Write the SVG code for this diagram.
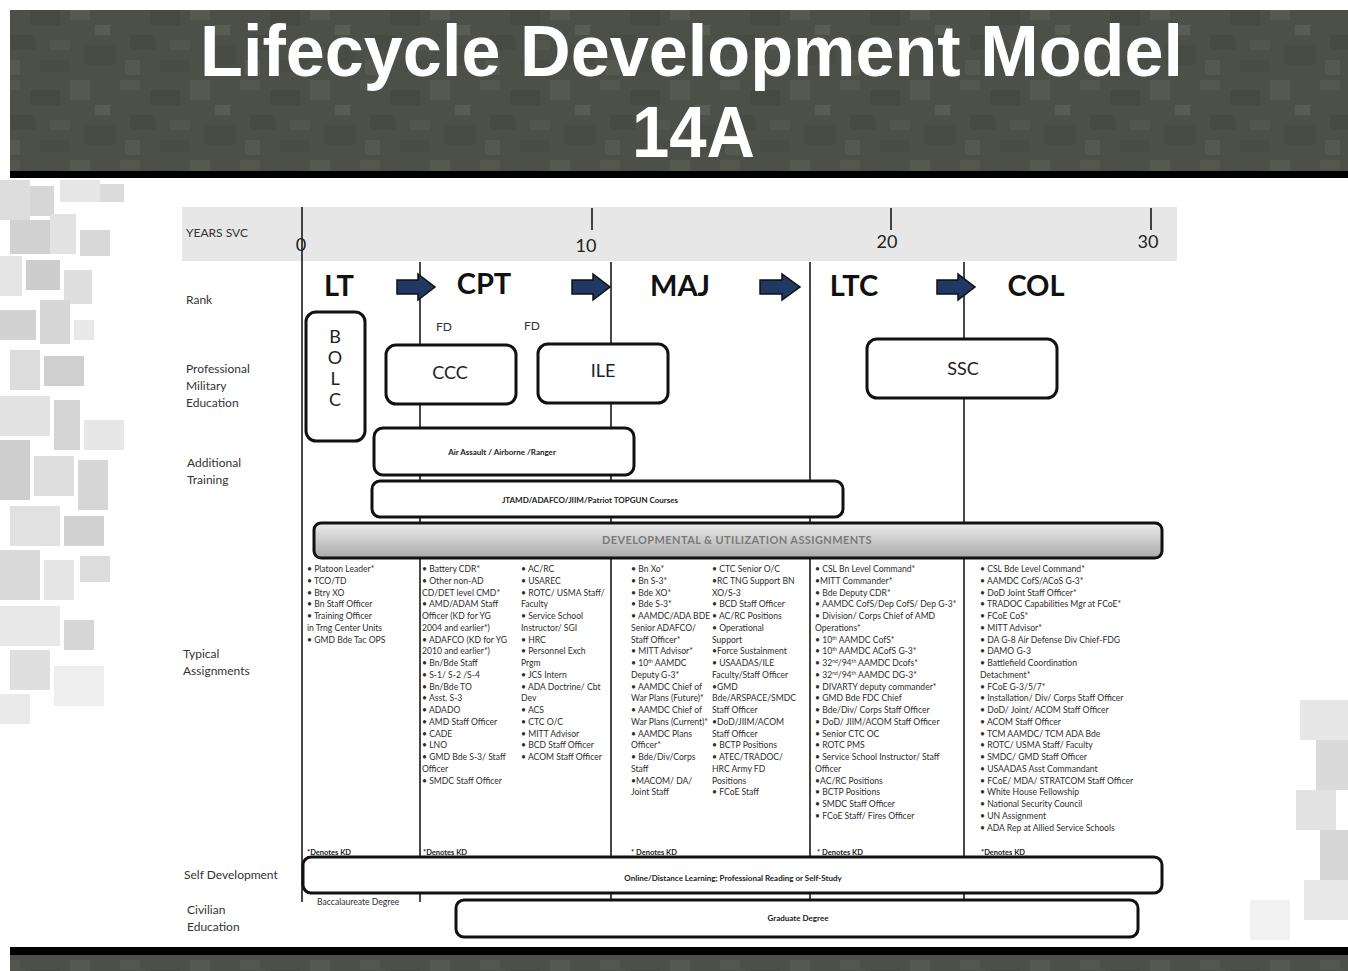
<svg xmlns="http://www.w3.org/2000/svg" width="1348" height="971" viewBox="0 0 1348 971">
  <defs>
    <style>
      .lbl { font-family: Lato, "Liberation Sans", sans-serif; font-size: 12px; fill: #333; }
      .rank { font-family: Lato, "Liberation Sans", sans-serif; font-size: 29px; font-weight: bold; fill: #111; }
      .box { fill: #fff; stroke: #111; stroke-width: 3; }
      .boxtxt { font-family: Lato, "Liberation Sans", sans-serif; font-size: 18px; fill: #222; text-anchor: middle; }
      .small { font-family: Lato, "Liberation Sans", sans-serif; font-size: 8px; font-weight: bold; fill: #222; text-anchor: middle; }
      .asg { font-family: Lato, "Liberation Sans", sans-serif; font-size: 8.6px; fill: #2e2e2e; }
      .kd { font-family: Lato, "Liberation Sans", sans-serif; font-size: 7.5px; font-weight: bold; fill: #222; text-decoration: underline; }
      .col { stroke: #1a1a1a; stroke-width: 1.6; fill: none; }
      .arrow { fill: #1f3864; stroke: #111; stroke-width: 1.5; }
      .yr { font-family: Lato, "Liberation Sans", sans-serif; font-size: 18px; fill: #222; text-anchor: middle; }
      .title { font-family: "Liberation Sans", Arial, sans-serif; font-weight: bold; fill: #fff; }
      .sup { font-size: 5px; }
    </style>
    <pattern id="camoDark" width="120" height="80" patternUnits="userSpaceOnUse">
      <rect width="120" height="80" fill="#4d5048"/>
      <rect x="0" y="0" width="20" height="10" fill="#54574e"/>
      <rect x="30" y="10" width="30" height="15" fill="#474a42"/>
      <rect x="70" y="0" width="20" height="20" fill="#575a51"/>
      <rect x="10" y="35" width="25" height="15" fill="#484b43"/>
      <rect x="50" y="40" width="20" height="10" fill="#53564d"/>
      <rect x="85" y="45" width="30" height="20" fill="#494c44"/>
      <rect x="5" y="60" width="15" height="15" fill="#565950"/>
      <rect x="40" y="60" width="30" height="12" fill="#4a4d45"/>
      <rect x="95" y="25" width="15" height="10" fill="#5a5d54"/>
    </pattern>
    <linearGradient id="devGrad" x1="0" y1="0" x2="0" y2="1">
      <stop offset="0" stop-color="#ececec"/>
      <stop offset="1" stop-color="#a9a9a9"/>
    </linearGradient>
  </defs>

  <!-- page -->
  <rect width="1348" height="971" fill="#fff"/>

  <!-- light camouflage at the left and right margins -->
  <g id="margin-camo" opacity="0.85">
    <rect x="0" y="180" width="30" height="40" fill="#d8d8d8"/>
    <rect x="30" y="186" width="24" height="30" fill="#cfcfcf"/>
    <rect x="60" y="180" width="40" height="22" fill="#e2e2e2"/>
    <rect x="100" y="184" width="24" height="18" fill="#d5d5d5"/>
    <rect x="10" y="220" width="40" height="34" fill="#c9c9c9"/>
    <rect x="50" y="214" width="26" height="40" fill="#dedede"/>
    <rect x="80" y="230" width="30" height="26" fill="#d2d2d2"/>
    <rect x="0" y="256" width="22" height="40" fill="#e0e0e0"/>
    <rect x="26" y="260" width="34" height="30" fill="#c4c4c4"/>
    <rect x="64" y="270" width="28" height="34" fill="#dadada"/>
    <rect x="40" y="300" width="30" height="44" fill="#d0d0d0"/>
    <rect x="0" y="310" width="36" height="30" fill="#cbcbcb"/>
    <rect x="74" y="320" width="20" height="20" fill="#e4e4e4"/>
    <rect x="10" y="350" width="30" height="40" fill="#d6d6d6"/>
    <rect x="44" y="356" width="40" height="30" fill="#c7c7c7"/>
    <rect x="0" y="396" width="50" height="40" fill="#dddddd"/>
    <rect x="54" y="400" width="26" height="50" fill="#cdcdcd"/>
    <rect x="84" y="420" width="40" height="30" fill="#e3e3e3"/>
    <rect x="0" y="440" width="30" height="60" fill="#c6c6c6"/>
    <rect x="34" y="456" width="40" height="40" fill="#d9d9d9"/>
    <rect x="78" y="460" width="30" height="50" fill="#cfcfcf"/>
    <rect x="10" y="506" width="50" height="40" fill="#dcdcdc"/>
    <rect x="64" y="516" width="40" height="30" fill="#c9c9c9"/>
    <rect x="0" y="550" width="40" height="50" fill="#d3d3d3"/>
    <rect x="44" y="560" width="30" height="40" fill="#e1e1e1"/>
    <rect x="80" y="556" width="30" height="26" fill="#d7d7d7"/>
    <rect x="0" y="606" width="60" height="40" fill="#e5e5e5"/>
    <rect x="64" y="620" width="30" height="30" fill="#d0d0d0"/>
    <rect x="10" y="650" width="40" height="40" fill="#dadada"/>
    <rect x="54" y="666" width="50" height="40" fill="#ececec"/>
    <rect x="0" y="694" width="30" height="30" fill="#e6e6e6"/>
    <rect x="1300" y="700" width="48" height="40" fill="#e3e3e3"/>
    <rect x="1316" y="740" width="32" height="50" fill="#d4d4d4"/>
    <rect x="1296" y="790" width="40" height="40" fill="#dedede"/>
    <rect x="1320" y="830" width="28" height="50" fill="#cfcfcf"/>
    <rect x="1304" y="880" width="44" height="40" fill="#e4e4e4"/>
    <rect x="1250" y="900" width="40" height="40" fill="#efefef"/>
  </g>

  <!-- title band -->
  <g id="header">
    <rect x="10" y="10" width="1338" height="161" fill="url(#camoDark)"/>
    <rect x="10" y="171" width="1338" height="7" fill="#000"/>
    <text class="title" x="200" y="76" font-size="72" textLength="983" lengthAdjust="spacingAndGlyphs">Lifecycle Development Model</text>
    <text class="title" x="632" y="157" font-size="72" textLength="123" lengthAdjust="spacingAndGlyphs">14A</text>
  </g>

  <!-- footer band -->
  <g id="footer">
    <rect x="10" y="947" width="1338" height="8" fill="#000"/>
    <rect x="10" y="955" width="1338" height="16" fill="url(#camoDark)"/>
  </g>

  <!-- years of service scale -->
  <g id="years">
    <rect x="182" y="207" width="995" height="54" fill="#e7e7e7"/>
    <text class="lbl" x="186" y="237" font-size="11">YEARS SVC</text>
    <line class="col" x1="592" y1="208" x2="592" y2="230"/>
    <line class="col" x1="891" y1="208" x2="891" y2="230"/>
    <line class="col" x1="1151" y1="208" x2="1151" y2="230"/>
    <text class="yr" x="301" y="251">0</text>
    <text class="yr" x="586" y="252">10</text>
    <text class="yr" x="887" y="248">20</text>
    <text class="yr" x="1148" y="248">30</text>
  </g>

  <!-- row labels -->
  <g id="row-labels">
    <text class="lbl" x="186" y="304">Rank</text>
    <text class="lbl" x="186" y="373">Professional<tspan x="186" dy="17">Military</tspan><tspan x="186" dy="17">Education</tspan></text>
    <text class="lbl" x="187" y="467">Additional<tspan x="187" dy="17">Training</tspan></text>
    <text class="lbl" x="183" y="658">Typical<tspan x="183" dy="17">Assignments</tspan></text>
    <text class="lbl" x="184" y="879">Self Development</text>
    <text class="lbl" x="187" y="914">Civilian<tspan x="187" dy="17">Education</tspan></text>
  </g>

  <!-- column boundaries and rank progression -->
  <g id="connectors">
    <line class="col" x1="302" y1="207" x2="302" y2="902"/>
    <line class="col" x1="420" y1="262" x2="420" y2="902"/>
    <line class="col" x1="611" y1="262" x2="611" y2="902"/>
    <line class="col" x1="810" y1="262" x2="810" y2="902"/>
    <line class="col" x1="964" y1="262" x2="964" y2="902"/>
    <path class="arrow" d="M397 280 H418 V274 L435 287 L418 300 V294 H397 Z"/>
    <path class="arrow" d="M572 280 H593 V274 L610 287 L593 300 V294 H572 Z"/>
    <path class="arrow" d="M760 280 H782 V274 L800 287 L782 300 V294 H760 Z"/>
    <path class="arrow" d="M937 280 H958 V274 L975 287 L958 300 V294 H937 Z"/>
  </g>

  <!-- ranks -->
  <g id="ranks">
    <text class="rank" x="339" y="296" text-anchor="middle">LT</text>
    <text class="rank" x="484" y="294" text-anchor="middle">CPT</text>
    <text class="rank" x="680" y="296" text-anchor="middle">MAJ</text>
    <text class="rank" x="854" y="296" text-anchor="middle">LTC</text>
    <text class="rank" x="1036" y="296" text-anchor="middle">COL</text>
    <text class="lbl" x="436" y="331" font-size="10">FD</text>
    <text class="lbl" x="524" y="330" font-size="10">FD</text>
  </g>

  <!-- professional military education -->
  <g id="bolc">
    <rect class="box" x="306" y="312" width="59" height="129" rx="10"/>
    <text class="boxtxt" x="335" y="343" font-size="15">B<tspan x="335" dy="21">O</tspan><tspan x="335" dy="21">L</tspan><tspan x="335" dy="21">C</tspan></text>
  </g>
  <g id="ccc">
    <rect class="box" x="386" y="345" width="130" height="59" rx="10"/>
    <text class="boxtxt" x="450" y="379">CCC</text>
  </g>
  <g id="ile">
    <rect class="box" x="538" y="344" width="130" height="59" rx="10"/>
    <text class="boxtxt" x="603" y="377">ILE</text>
  </g>
  <g id="ssc">
    <rect class="box" x="867" y="339" width="190" height="59" rx="10"/>
    <text class="boxtxt" x="963" y="375">SSC</text>
  </g>

  <!-- additional training -->
  <g id="air-assault">
    <rect class="box" x="374" y="428" width="260" height="47" rx="9"/>
    <text class="small" x="502" y="455">Air Assault / Airborne /Ranger</text>
  </g>
  <g id="jtamd">
    <rect class="box" x="372" y="481" width="471" height="36" rx="8"/>
    <text class="small" x="590" y="503">JTAMD/ADAFCO/JIIM/Patriot TOPGUN Courses</text>
  </g>

  <!-- assignments header bar -->
  <g id="dev-util">
    <rect x="314" y="523" width="848" height="35" rx="7" fill="url(#devGrad)" stroke="#111" stroke-width="3"/>
    <text x="737" y="544" font-family="Lato, 'Liberation Sans', sans-serif" font-size="11" font-weight="bold" fill="#7a7a7a" text-anchor="middle" letter-spacing="0.4">DEVELOPMENTAL &amp; UTILIZATION ASSIGNMENTS</text>
  </g>

  <!-- typical assignments, one group per rank -->
  <g id="asg-lt">
    <text class="asg" x="307" y="572">• Platoon Leader*<tspan x="307" dy="11.75">• TCO/TD</tspan><tspan x="307" dy="11.75">• Btry XO</tspan><tspan x="307" dy="11.75">• Bn Staff Officer</tspan><tspan x="307" dy="11.75">• Training Officer</tspan><tspan x="307" dy="11.75">in Trng Center Units</tspan><tspan x="307" dy="11.75">• GMD Bde Tac OPS</tspan></text>
    <text class="kd" x="307" y="855">*Denotes KD</text>
  </g>
  <g id="asg-cpt">
    <text class="asg" x="422" y="572">• Battery CDR*<tspan x="422" dy="11.75">• Other non-AD</tspan><tspan x="422" dy="11.75">CD/DET level CMD*</tspan><tspan x="422" dy="11.75">• AMD/ADAM Staff</tspan><tspan x="422" dy="11.75">Officer (KD for YG</tspan><tspan x="422" dy="11.75">2004 and earlier*)</tspan><tspan x="422" dy="11.75">• ADAFCO (KD for YG</tspan><tspan x="422" dy="11.75">2010 and earlier*)</tspan><tspan x="422" dy="11.75">• Bn/Bde Staff</tspan><tspan x="422" dy="11.75">• S-1/ S-2 /S-4</tspan><tspan x="422" dy="11.75">• Bn/Bde TO</tspan><tspan x="422" dy="11.75">• Asst. S-3</tspan><tspan x="422" dy="11.75">• ADADO</tspan><tspan x="422" dy="11.75">• AMD Staff Officer</tspan><tspan x="422" dy="11.75">• CADE</tspan><tspan x="422" dy="11.75">• LNO</tspan><tspan x="422" dy="11.75">• GMD Bde S-3/ Staff</tspan><tspan x="422" dy="11.75">Officer</tspan><tspan x="422" dy="11.75">• SMDC Staff Officer</tspan></text>
    <text class="asg" x="521" y="572">• AC/RC<tspan x="521" dy="11.75">• USAREC</tspan><tspan x="521" dy="11.75">• ROTC/ USMA Staff/</tspan><tspan x="521" dy="11.75">Faculty</tspan><tspan x="521" dy="11.75">• Service School</tspan><tspan x="521" dy="11.75">Instructor/ SGI</tspan><tspan x="521" dy="11.75">• HRC</tspan><tspan x="521" dy="11.75">• Personnel Exch</tspan><tspan x="521" dy="11.75">Prgm</tspan><tspan x="521" dy="11.75">• JCS Intern</tspan><tspan x="521" dy="11.75">• ADA Doctrine/ Cbt</tspan><tspan x="521" dy="11.75">Dev</tspan><tspan x="521" dy="11.75">• ACS</tspan><tspan x="521" dy="11.75">• CTC O/C</tspan><tspan x="521" dy="11.75">• MITT Advisor</tspan><tspan x="521" dy="11.75">• BCD Staff Officer</tspan><tspan x="521" dy="11.75">• ACOM Staff Officer</tspan></text>
    <text class="kd" x="423" y="855">*Denotes KD</text>
  </g>
  <g id="asg-maj">
    <text class="asg" x="631" y="572">• Bn Xo*<tspan x="631" dy="11.75">• Bn S-3*</tspan><tspan x="631" dy="11.75">• Bde XO*</tspan><tspan x="631" dy="11.75">• Bde S-3*</tspan><tspan x="631" dy="11.75">• AAMDC/ADA BDE</tspan><tspan x="631" dy="11.75">Senior ADAFCO/</tspan><tspan x="631" dy="11.75">Staff Officer*</tspan><tspan x="631" dy="11.75">• MITT Advisor*</tspan><tspan x="631" dy="11.75">• 10<tspan class="sup" dy="-3">th</tspan><tspan dy="3"> AAMDC</tspan></tspan><tspan x="631" dy="11.75">Deputy G-3*</tspan><tspan x="631" dy="11.75">• AAMDC Chief of</tspan><tspan x="631" dy="11.75">War Plans (Future)*</tspan><tspan x="631" dy="11.75">• AAMDC Chief of</tspan><tspan x="631" dy="11.75">War Plans (Current)*</tspan><tspan x="631" dy="11.75">• AAMDC Plans</tspan><tspan x="631" dy="11.75">Officer*</tspan><tspan x="631" dy="11.75">• Bde/Div/Corps</tspan><tspan x="631" dy="11.75">Staff</tspan><tspan x="631" dy="11.75">•MACOM/ DA/</tspan><tspan x="631" dy="11.75">Joint Staff</tspan></text>
    <text class="asg" x="712" y="572">• CTC Senior O/C<tspan x="712" dy="11.75">•RC TNG Support BN</tspan><tspan x="712" dy="11.75">XO/S-3</tspan><tspan x="712" dy="11.75">• BCD Staff Officer</tspan><tspan x="712" dy="11.75">• AC/RC Positions</tspan><tspan x="712" dy="11.75">• Operational</tspan><tspan x="712" dy="11.75">Support</tspan><tspan x="712" dy="11.75">•Force Sustainment</tspan><tspan x="712" dy="11.75">• USAADAS/ILE</tspan><tspan x="712" dy="11.75">Faculty/Staff Officer</tspan><tspan x="712" dy="11.75">•GMD</tspan><tspan x="712" dy="11.75">Bde/ARSPACE/SMDC</tspan><tspan x="712" dy="11.75">Staff Officer</tspan><tspan x="712" dy="11.75">•DoD/JIIM/ACOM</tspan><tspan x="712" dy="11.75">Staff Officer</tspan><tspan x="712" dy="11.75">• BCTP Positions</tspan><tspan x="712" dy="11.75">• ATEC/TRADOC/</tspan><tspan x="712" dy="11.75">HRC Army FD</tspan><tspan x="712" dy="11.75">Positions</tspan><tspan x="712" dy="11.75">• FCoE Staff</tspan></text>
    <text class="kd" x="631" y="855">* Denotes KD</text>
  </g>
  <g id="asg-ltc">
    <text class="asg" x="815" y="572">• CSL Bn Level Command*<tspan x="815" dy="11.75">•MITT Commander*</tspan><tspan x="815" dy="11.75">• Bde Deputy CDR*</tspan><tspan x="815" dy="11.75">• AAMDC CofS/Dep CofS/ Dep G-3*</tspan><tspan x="815" dy="11.75">• Division/ Corps Chief of AMD</tspan><tspan x="815" dy="11.75">Operations*</tspan><tspan x="815" dy="11.75">• 10<tspan class="sup" dy="-3">th</tspan><tspan dy="3"> AAMDC CofS*</tspan></tspan><tspan x="815" dy="11.75">• 10<tspan class="sup" dy="-3">th</tspan><tspan dy="3"> AAMDC ACofS G-3*</tspan></tspan><tspan x="815" dy="11.75">• 32<tspan class="sup" dy="-3">nd</tspan><tspan dy="3">/94</tspan><tspan class="sup" dy="-3">th</tspan><tspan dy="3"> AAMDC Dcofs*</tspan></tspan><tspan x="815" dy="11.75">• 32<tspan class="sup" dy="-3">nd</tspan><tspan dy="3">/94</tspan><tspan class="sup" dy="-3">th</tspan><tspan dy="3"> AAMDC DG-3*</tspan></tspan><tspan x="815" dy="11.75">• DIVARTY deputy commander*</tspan><tspan x="815" dy="11.75">• GMD Bde FDC Chief</tspan><tspan x="815" dy="11.75">• Bde/Div/ Corps Staff Officer</tspan><tspan x="815" dy="11.75">• DoD/ JIIM/ACOM Staff Officer</tspan><tspan x="815" dy="11.75">• Senior CTC OC</tspan><tspan x="815" dy="11.75">• ROTC PMS</tspan><tspan x="815" dy="11.75">• Service School Instructor/ Staff</tspan><tspan x="815" dy="11.75">Officer</tspan><tspan x="815" dy="11.75">•AC/RC Positions</tspan><tspan x="815" dy="11.75">• BCTP Positions</tspan><tspan x="815" dy="11.75">• SMDC Staff Officer</tspan><tspan x="815" dy="11.75">• FCoE Staff/ Fires Officer</tspan></text>
    <text class="kd" x="817" y="855">* Denotes KD</text>
  </g>
  <g id="asg-col">
    <text class="asg" x="980" y="572">• CSL Bde Level Command*<tspan x="980" dy="11.75">• AAMDC CofS/ACoS G-3*</tspan><tspan x="980" dy="11.75">• DoD Joint Staff Officer*</tspan><tspan x="980" dy="11.75">• TRADOC Capabilities Mgr at FCoE*</tspan><tspan x="980" dy="11.75">• FCoE CoS*</tspan><tspan x="980" dy="11.75">• MITT Advisor*</tspan><tspan x="980" dy="11.75">• DA G-8 Air Defense Div Chief-FDG</tspan><tspan x="980" dy="11.75">• DAMO G-3</tspan><tspan x="980" dy="11.75">• Battlefield Coordination</tspan><tspan x="980" dy="11.75">Detachment*</tspan><tspan x="980" dy="11.75">• FCoE G-3/5/7*</tspan><tspan x="980" dy="11.75">• Installation/ Div/ Corps Staff Officer</tspan><tspan x="980" dy="11.75">• DoD/ Joint/ ACOM Staff Officer</tspan><tspan x="980" dy="11.75">• ACOM Staff Officer</tspan><tspan x="980" dy="11.75">• TCM AAMDC/ TCM ADA Bde</tspan><tspan x="980" dy="11.75">• ROTC/ USMA Staff/ Faculty</tspan><tspan x="980" dy="11.75">• SMDC/ GMD Staff Officer</tspan><tspan x="980" dy="11.75">• USAADAS Asst Commandant</tspan><tspan x="980" dy="11.75">• FCoE/ MDA/ STRATCOM Staff Officer</tspan><tspan x="980" dy="11.75">• White House Fellowship</tspan><tspan x="980" dy="11.75">• National Security Council</tspan><tspan x="980" dy="11.75">• UN Assignment</tspan><tspan x="980" dy="11.75">• ADA Rep at Allied Service Schools</tspan></text>
    <text class="kd" x="981" y="855">*Denotes KD</text>
  </g>

  <!-- self development -->
  <g id="self-dev">
    <rect class="box" x="303" y="857" width="859" height="36" rx="8"/>
    <text class="small" x="733" y="881" font-size="7.5">Online/Distance Learning; Professional Reading or Self-Study</text>
  </g>

  <!-- civilian education -->
  <g id="bacc">
    <text class="asg" x="317" y="905" font-size="7.5">Baccalaureate Degree</text>
  </g>
  <g id="grad">
    <rect class="box" x="456" y="900" width="682" height="37" rx="8"/>
    <text class="small" x="798" y="921" font-size="7.5">Graduate Degree</text>
  </g>
</svg>
